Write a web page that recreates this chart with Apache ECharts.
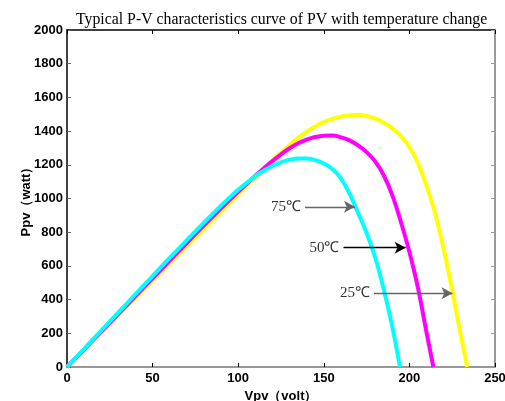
<!DOCTYPE html>
<html>
<head>
<meta charset="utf-8">
<script src="https://cdn.jsdelivr.net/npm/echarts@6/dist/echarts.min.js"></script>
<style>
  html, body { margin: 0; padding: 0; background: #fff; }
  #chart { width: 505px; height: 401px; }
</style>
</head>
<body>
<div id="chart"></div>
<script>
// curve data: [Vpv, Ppv]
var curve25 = [[0,0],[10,103],[20,206],[30,309],[40,412],[50,515],[60,618],[70,720],[80,822],[90,924],
  [100,1025],[110,1125],[115,1175],[120,1225],[125,1272],[130,1318],[135,1360],[140,1397],[145,1428],
  [150,1453],[155,1472],[160,1486],[165,1494],[170,1497],[175,1490],[180,1475],[185,1450],[190,1418],
  [195,1372],[200,1306],[205,1210],[210,1075],[215,912],[220,700],[225,455],[230,190],[233.8,0]];
var curve50 = [[0,0],[10,105],[20,210],[30,315],[40,421],[50,526],[60,631],[70,736],[80,840],[90,942],
  [100,1040],[110,1135],[115,1180],[120,1222],[125,1262],[130,1298],[135,1328],[140,1350],[145,1365],
  [150,1373],[155,1374],[160,1363],[165,1345],[170,1315],[175,1275],[180,1220],[185,1138],[190,1020],
  [195,862],[200,683],[205,470],[210,205],[214,0]];
var curve75 = [[0,0],[10,108],[20,216],[30,324],[40,432],[50,540],[60,647],[70,753],[80,857],[90,958],
  [100,1052],[110,1133],[115,1165],[120,1193],[125,1215],[130,1230],[135,1238],[140,1238],[145,1228],
  [150,1208],[155,1175],[160,1120],[165,1030],[170,915],[175,795],[180,650],[185,462],[190,240],[194.5,0]];

// annotation arrows: label, start V, end V, P, colour
var notes = [
  ['75℃', 139, 168.2, 951, '#666'],
  ['50℃', 161.5, 197.8, 708, '#000'],
  ['25℃', 179.3, 225.2, 437, '#666']
];

var xTicks = [0, 50, 100, 150, 200, 250];
var yMax = 2000;

var chart = echarts.init(document.getElementById('chart'));

var tickFont = { fontFamily: 'Liberation Sans', fontWeight: 'bold', fontSize: 13, color: '#000' };

function curve(name, data, color) {
  return {
    name: name,
    type: 'line',
    data: data,
    smooth: 0.4,
    symbol: 'none',
    lineStyle: { color: color, width: 4 },
    z: 3
  };
}

var markData = notes.map(function (n) {
  return [
    { coord: [n[1], n[3]], name: n[0], lineStyle: { color: n[4] } },
    { coord: [n[2], n[3]] }
  ];
});

var option = {
  animation: false,
  title: {
    text: 'Typical P-V characteristics curve of PV with temperature change',
    left: 71,
    top: 7,
    textStyle: { fontFamily: 'Liberation Serif', fontWeight: 'normal', fontSize: 15.8, color: '#000' }
  },
  grid: { left: 67, right: 10, top: 30, bottom: 34, outerBoundsMode: 'none', containLabel: false },
  xAxis: [{
    type: 'value',
    min: xTicks[0],
    max: xTicks[xTicks.length - 1],
    interval: 50,
    name: 'Vpv（volt）',
    nameLocation: 'middle',
    nameGap: 23,
    nameTextStyle: { fontFamily: 'Liberation Sans', fontWeight: 'bold', fontSize: 13, color: '#000' },
    axisLine: { lineStyle: { color: '#777', width: 1.5 } },
    axisTick: { inside: true, length: 4, lineStyle: { color: '#000' } },
    axisLabel: Object.assign({ margin: 5, formatter: '{value}' }, tickFont),
    splitLine: { show: false }
  }, {
    type: 'value',
    position: 'top',
    min: 0, max: 250, interval: 50,
    axisLine: { show: true, onZero: false, lineStyle: { color: '#000', width: 1.5 } },
    axisTick: { inside: true, length: 4, lineStyle: { color: '#000' } },
    axisLabel: { show: false },
    splitLine: { show: false }
  }],
  yAxis: [{
    type: 'value',
    min: 0,
    max: yMax,
    interval: 200,
    name: 'Ppv（watt）',
    nameLocation: 'middle',
    nameGap: 34,
    nameMoveOverlap: false,
    nameTextStyle: { fontFamily: 'Liberation Sans', fontWeight: 'bold', fontSize: 13, color: '#000' },
    axisLine: { show: true, lineStyle: { color: '#000', width: 1.5 } },
    axisTick: { show: true, inside: true, length: 4, lineStyle: { color: '#666' } },
    axisLabel: Object.assign({ margin: 4, formatter: function (v) { return String(v); } }, tickFont),
    splitLine: { show: false }
  }, {
    type: 'value',
    position: 'right',
    min: 0, max: yMax, interval: 200,
    axisLine: { show: true, onZero: false, lineStyle: { color: '#777', width: 1.5 } },
    axisTick: { show: true, inside: true, length: 4, lineStyle: { color: '#999' } },
    axisLabel: { show: false },
    splitLine: { show: false }
  }],
  series: [
    curve('25℃', curve25, '#ffff00'),
    curve('50℃', curve50, '#ff00ff'),
    curve('75℃', curve75, '#00ffff'),
    {
      type: 'line',
      data: [],
      markLine: {
        silent: true,
        symbol: ['none', 'arrow'],
        symbolSize: [9, 11],
        lineStyle: { type: 'solid', width: 1.3 },
        label: {
          show: true,
          position: 'start',
          distance: 4,
          formatter: '{b}',
          fontFamily: 'Liberation Serif',
          fontSize: 15,
          color: '#333'
        },
        data: markData
      },
      z: 4
    }
  ]
};

chart.setOption(option);
</script>
</body>
</html>
